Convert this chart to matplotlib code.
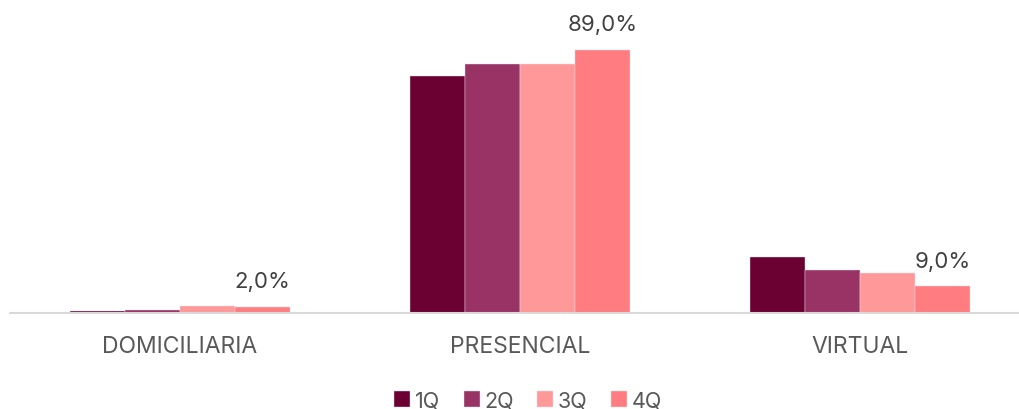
import numpy as np
import matplotlib.pyplot as plt

# ============================================================
# DATA
# ============================================================

categories = ["DOMICILIARIA", "PRESENCIAL", "VIRTUAL"]
series = ["1Q", "2Q", "3Q", "4Q"]

q1 = [0.8, 80.2, 19.0]
q2 = [1.1, 84.4, 14.5]
q3 = [2.2, 84.3, 13.5]
q4 = [2.0, 89.0, 9.0]

colors = ["#6B0033", "#993366", "#FF9999", "#FF7C80"]

# ============================================================
# PLOT
# ============================================================

plt.rcParams['font.family'] = ['Inter', 'DejaVu Sans']

fig = plt.figure(figsize=(10.19, 4.10), dpi=100)
ax = fig.add_axes([10/1019, 96/410, 1020/1019, 295.5/410])

x = np.arange(len(categories))
width = 0.162
values = [q1, q2, q3, q4]

for i, (name, vals) in enumerate(zip(series, values)):
    pos = x + (i - 1.5) * width
    ax.bar(pos, vals,
           width=width,
           color=colors[i],
           edgecolor="#F4E0E8",
           linewidth=0.3,
           label=name)

# labels only on last series
for xi, v in zip(x + 1.5 * width, q4):
    ax.text(xi, v + 5.3, f"{v:.1f}%".replace(".", ","),
            ha="center", va="bottom",
            fontsize=16, color="#404040")

ax.set_xlim(-0.5, 2.5)
ax.set_ylim(0, 100)
ax.set_yticks([])
ax.set_xticks(x)
ax.set_xticklabels(categories, fontsize=16.5, color="#595959")
ax.tick_params(axis="x", length=0, pad=16)

for s in ["top", "right", "left"]:
    ax.spines[s].set_visible(False)
ax.spines["bottom"].set_color("#D9D9D9")
ax.spines["bottom"].set_linewidth(1.5)

fig.legend(loc="lower center",
           bbox_to_anchor=(528/1019, -0.05),
           ncol=4,
           frameon=False,
           fontsize=15.5,
           handlelength=0.75,
           handleheight=0.75,
           handletextpad=0.2,
           columnspacing=1.1,
           labelcolor="#595959")

fig.savefig("out.png", dpi=100)
